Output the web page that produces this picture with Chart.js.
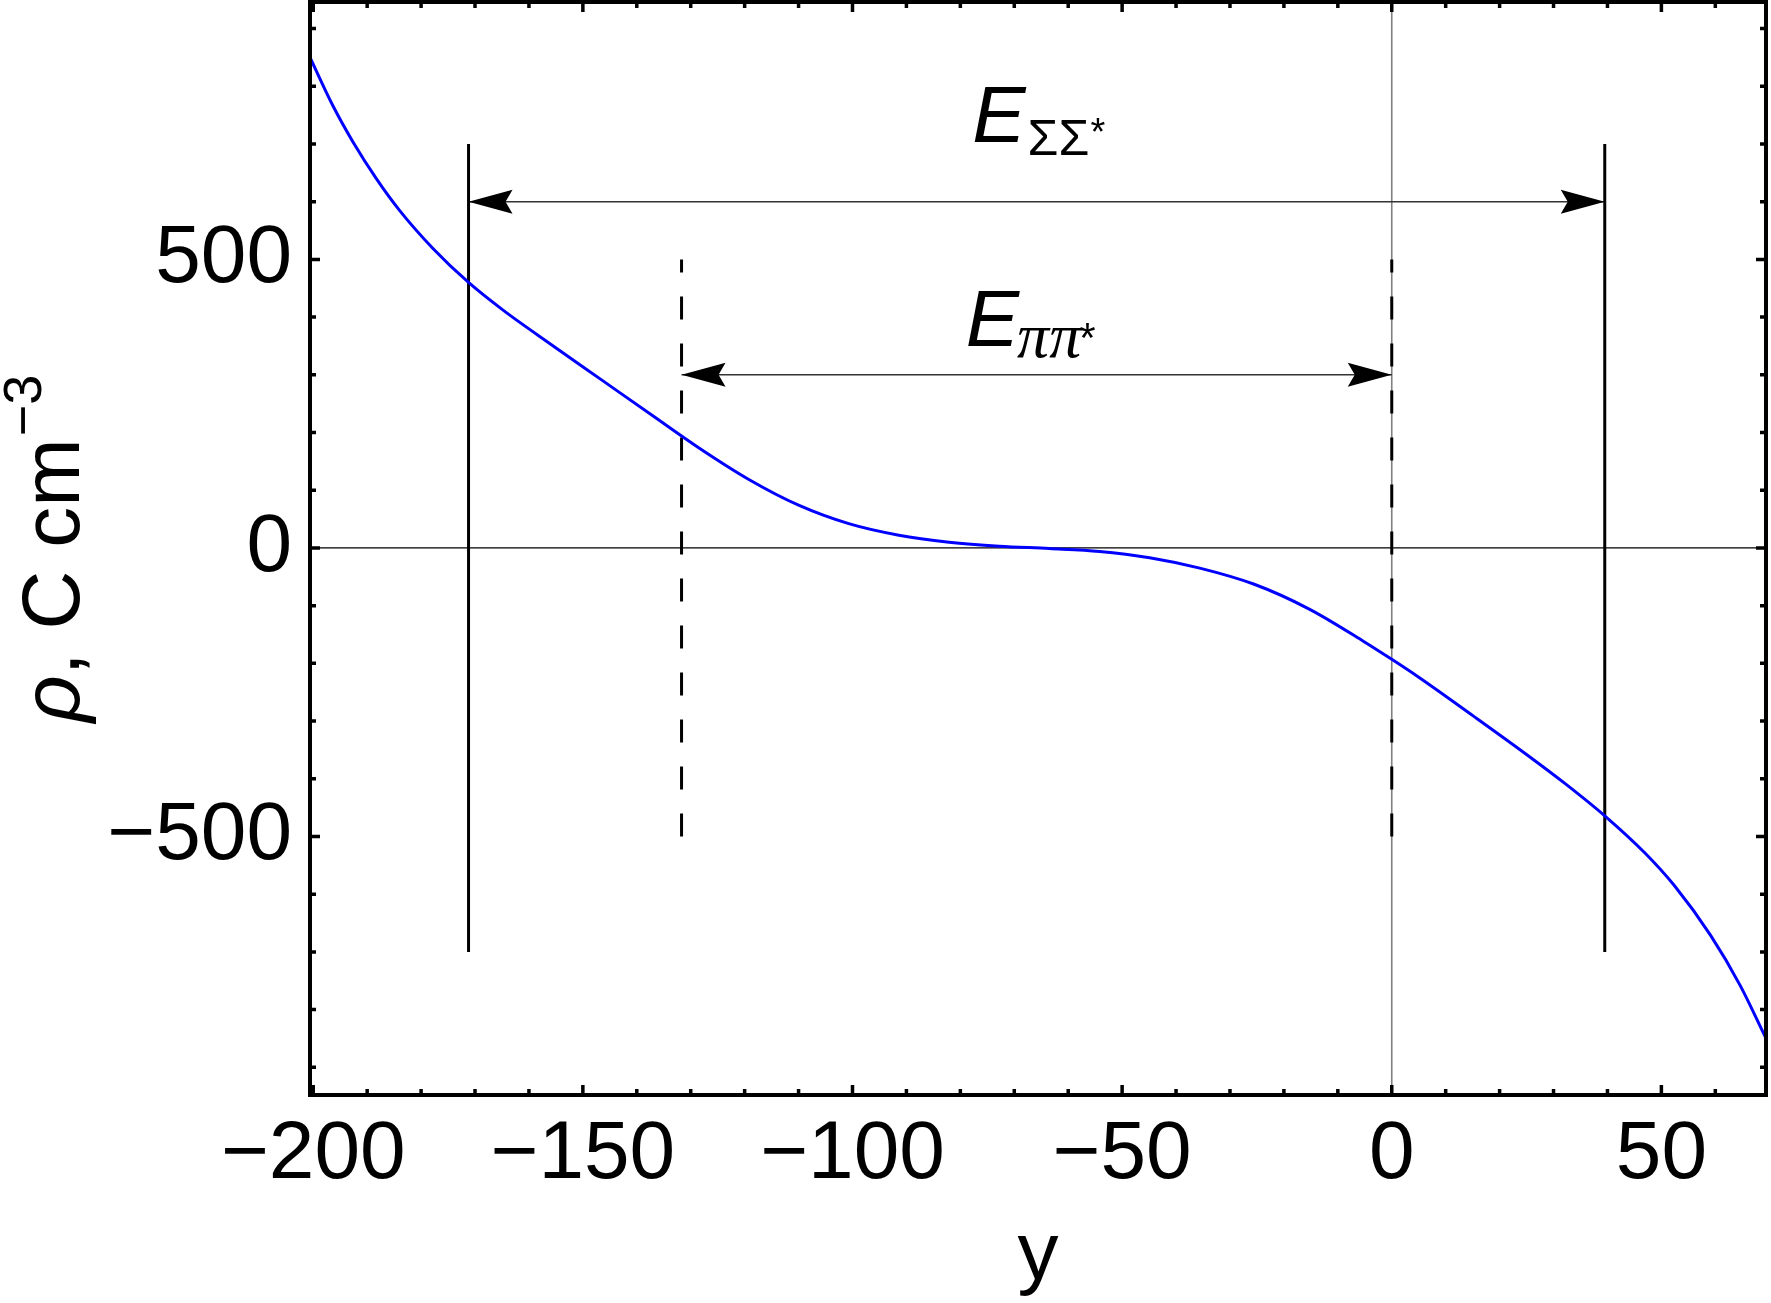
<!DOCTYPE html>
<html>
<head>
<meta charset="utf-8">
<script src="https://cdn.jsdelivr.net/npm/chart.js@4.4.1/dist/chart.umd.min.js"></script>
<style>
  html, body { margin: 0; padding: 0; background: #fff; }
  #wrap { width: 1771px; height: 1303px; }
</style>
</head>
<body>
<div id="wrap"><canvas id="rhoChart" width="1771" height="1303"></canvas></div>
<script>
// rho(y)
const yPos = [-200.6, -196.4, -192.6, -188.3, -184.0, -177.8, -171.2, -164.8, -155.5, -146.2,
              -136.9, -128.6, -119.3, -110, -100.7, -91.4, -82.1, -72.8, -63.5, -54.2,
              -44.9, -35.6, -25.5, -15.3, -5.2, 0, 5, 15.1, 25.3, 32.1,
              39.6, 47, 52.4, 59.1, 64.6, 69.4];
const rho = [850, 767, 703, 640, 585, 519, 460, 412, 350, 289,
             228, 174, 119, 74, 42, 22, 10, 3, -1, -6,
             -17, -35, -63, -106, -162, -193, -224, -291, -360, -408,
             -465, -529, -585, -671, -758, -850];

const xRange = [-200.6, 69.4];
const rhoRange = [-948, 946];
const xMajorTicks = [-200, -150, -100, -50, 0, 50];
const rhoMajorTicks = [-500, 0, 500];
const xMinorStep = 10;
const rhoMinorStep = 100;

// transition markers
const sigmaEdges = [-171.2, 39.5];
const sigmaSpan = [-700, 700];
const sigmaArrowRho = 600;
const piEdges = [-131.7, 0];
const piSpan = [-500, 500];
const piArrowRho = 300;

const labelSubs = ['ΣΣ', 'ππ'];
const labelX = [-77.8, -79];
const labelRho = [703, 350];

const FONT = '"Liberation Sans", Arial, sans-serif';

function fmt(v) { return v < 0 ? '\u2212' + Math.abs(v) : String(v); }

function vline(xv, span, dash) {
    return { data: span.map(r => ({ x: xv, y: r })), borderColor: '#000', borderWidth: 3,
             borderDash: dash ? [23, 24] : [], pointRadius: 0, showLine: true };
}
function hline(edges, r) {
    return { data: edges.map(e => ({ x: e, y: r })), borderColor: '#333', borderWidth: 1.5,
             pointRadius: 0, showLine: true };
}

function arrowHead(ctx, tx, ty, dir) {
    // dir = -1 : points left, +1 : points right
    ctx.beginPath();
    ctx.moveTo(tx, ty);
    ctx.lineTo(tx - dir * 44, ty - 12);
    ctx.lineTo(tx - dir * 37, ty);
    ctx.lineTo(tx - dir * 44, ty + 12);
    ctx.closePath();
    ctx.fill();
}

const decor = {
    id: 'decor',
    beforeDatasetsDraw(chart) {
        const { ctx, chartArea: a, scales: { x, y } } = chart;
        ctx.save();
        const y0 = y.getPixelForValue(0);
        ctx.strokeStyle = '#000'; ctx.lineWidth = 1.3;
        ctx.beginPath(); ctx.moveTo(a.left, y0); ctx.lineTo(a.right, y0); ctx.stroke();
        const x0 = x.getPixelForValue(0);
        ctx.strokeStyle = '#808080'; ctx.lineWidth = 1.6;
        ctx.beginPath(); ctx.moveTo(x0, a.top); ctx.lineTo(x0, a.bottom); ctx.stroke();
        ctx.restore();
    },
    afterDatasetsDraw(chart) {
        const { ctx, scales: { x, y } } = chart;
        ctx.save();
        ctx.fillStyle = '#000';
        [[sigmaEdges, sigmaArrowRho], [piEdges, piArrowRho]].forEach(([e, r]) => {
            const py = y.getPixelForValue(r);
            arrowHead(ctx, x.getPixelForValue(e[0]), py, -1);
            arrowHead(ctx, x.getPixelForValue(e[1]), py, 1);
        });

        labelSubs.forEach((sub, i) => {
            const px = x.getPixelForValue(labelX[i]);
            const py = y.getPixelForValue(labelRho[i]);
            ctx.textBaseline = 'alphabetic'; ctx.textAlign = 'left';
            ctx.font = 'italic 80px ' + FONT;
            ctx.fillText('E', px, py);
            let cx = px + ctx.measureText('E').width + 2;
            if (i === 0) {
                ctx.font = '50px ' + FONT;
                ctx.fillText(sub, cx, py + 13);
                cx += ctx.measureText(sub).width + 1;
                ctx.font = '38px ' + FONT;
                ctx.fillText('*', cx, py + 3);
            } else {
                ctx.font = 'italic 64px "Liberation Serif", serif';
                ctx.fillText(sub, cx - 4, py + 11);
                cx += ctx.measureText(sub).width - 6;
                ctx.font = '42px ' + FONT;
                ctx.fillText('*', cx, py + 6);
            }
        });
        ctx.restore();
    },
    afterDraw(chart) {
        const { ctx, chartArea: a, scales: { x, y } } = chart;
        ctx.save();
        ctx.strokeStyle = '#000';
        ctx.lineWidth = 3.5;
        // minor / major tick marks on all four sides
        for (let i = Math.ceil(xRange[0] / xMinorStep); i * xMinorStep <= xRange[1]; i++) {
            const v = i * xMinorStep;
            const len = v % 50 === 0 ? 10 : 6;
            const px = x.getPixelForValue(v);
            ctx.beginPath();
            ctx.moveTo(px, a.bottom); ctx.lineTo(px, a.bottom - len);
            ctx.moveTo(px, a.top); ctx.lineTo(px, a.top + len);
            ctx.stroke();
        }
        for (let i = Math.ceil(rhoRange[0] / rhoMinorStep); i * rhoMinorStep <= rhoRange[1]; i++) {
            const v = i * rhoMinorStep;
            const len = v % 500 === 0 ? 10 : 6;
            const py = y.getPixelForValue(v);
            ctx.beginPath();
            ctx.moveTo(a.left, py); ctx.lineTo(a.left + len, py);
            ctx.moveTo(a.right, py); ctx.lineTo(a.right - len, py);
            ctx.stroke();
        }
        ctx.lineWidth = 4;
        ctx.strokeRect(a.left, a.top, a.right - a.left, a.bottom - a.top);

        // axis titles
        ctx.fillStyle = '#000';
        ctx.textBaseline = 'alphabetic';
        ctx.textAlign = 'center';
        ctx.font = '82px ' + FONT;
        ctx.fillText('y', (a.left + a.right) / 2, 1279);

        ctx.translate(79, (a.top + a.bottom) / 2);
        ctx.rotate(-Math.PI / 2);
        ctx.textAlign = 'left';
        ctx.font = 'italic 82px ' + FONT;
        const wRho = ctx.measureText('ρ').width;
        ctx.font = '82px ' + FONT;
        const wMain = ctx.measureText(', C cm').width;
        ctx.font = '54px ' + FONT;
        const wSup = ctx.measureText('\u22123').width;
        let sx = -(wRho + wMain + wSup + 2) / 2;
        ctx.font = 'italic 82px ' + FONT;
        ctx.fillText('ρ', sx, 0);
        sx += wRho;
        ctx.font = '82px ' + FONT;
        ctx.fillText(', C cm', sx, 0);
        sx += wMain + 2;
        ctx.font = '54px ' + FONT;
        ctx.fillText('\u22123', sx, -38);
        ctx.restore();
    }
};

const curve = {
    data: yPos.map((v, i) => ({ x: v, y: rho[i] })),
    borderColor: '#0000ff', borderWidth: 3, pointRadius: 0, showLine: true,
    cubicInterpolationMode: 'monotone'
};

new Chart(document.getElementById('rhoChart'), {
    type: 'scatter',
    data: {
        datasets: [
            curve,
            vline(sigmaEdges[0], sigmaSpan, false), vline(sigmaEdges[1], sigmaSpan, false),
            vline(piEdges[0], piSpan, true), vline(piEdges[1], piSpan, true),
            hline(sigmaEdges, sigmaArrowRho), hline(piEdges, piArrowRho)
        ]
    },
    options: {
        responsive: false, animation: false, devicePixelRatio: 1,
        layout: { padding: { top: 2, right: 5, left: 0, bottom: 0 } },
        plugins: { legend: { display: false }, tooltip: { enabled: false } },
        scales: {
            x: {
                type: 'linear', min: xRange[0], max: xRange[1],
                grid: { display: false }, border: { display: false },
                afterBuildTicks: s => { s.ticks = xMajorTicks.map(v => ({ value: v })); },
                afterFit: s => { s.height = 208; s.paddingLeft = 0; s.paddingRight = 0; },
                ticks: { font: { family: FONT, size: 82 }, color: '#000', padding: 3,
                         maxRotation: 0, autoSkip: false, callback: v => fmt(v) }
            },
            y: {
                type: 'linear', min: rhoRange[0], max: rhoRange[1],
                grid: { display: false }, border: { display: false },
                afterBuildTicks: s => { s.ticks = rhoMajorTicks.map(v => ({ value: v })); },
                afterFit: s => { s.width = 310; s.paddingTop = 0; s.paddingBottom = 0; },
                ticks: { font: { family: FONT, size: 82 }, color: '#000', padding: 10,
                         autoSkip: false, callback: v => fmt(v) }
            }
        }
    },
    plugins: [decor]
});
</script>
</body>
</html>
